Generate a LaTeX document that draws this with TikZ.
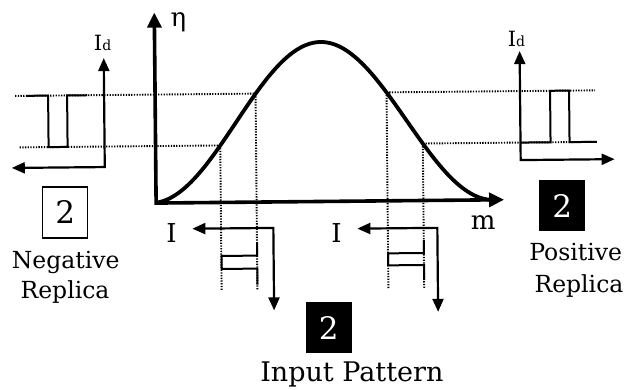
\documentclass[tikz,border=0pt]{standalone}
\usepackage{fontspec}
\setmainfont{DejaVu Serif}
\usetikzlibrary{arrows.meta}
\begin{document}
\begin{tikzpicture}[x=1pt,y=-1pt,
  axis/.style={line width=2.2pt,line join=miter,{Triangle[length=13pt,width=11pt]}-{Triangle[length=13pt,width=11pt]}},
  mainaxis/.style={line width=3.6pt,line join=miter,{Triangle[length=15pt,width=14pt]}-{Triangle[length=15pt,width=14pt]}},
  curve/.style={line width=3.8pt},
  guide/.style={line width=1.9pt,dash pattern=on 1.3pt off 1.4pt},
  pulse/.style={line width=2pt,line join=miter},
  lbl/.style={font=\fontsize{26}{28}\selectfont,inner sep=0pt},
  idlbl/.style={font=\fontsize{21}{24}\selectfont,inner sep=0pt},
  wbox/.style={draw,line width=1.3pt,minimum width=45pt,minimum height=51pt,inner sep=0pt,font=\fontsize{31}{32}\selectfont},
  bbox/.style={fill=black,text=white,minimum width=46pt,minimum height=51pt,inner sep=0pt,font=\fontsize{31}{32}\selectfont},
  captxt/.style={anchor=base,font=\fontsize{23.5}{25}\selectfont,inner sep=0pt},
  bigcap/.style={anchor=base,font=\fontsize{27}{28}\selectfont,inner sep=0pt}]
\useasboundingbox (0,0) rectangle (636,389);
\begin{scope}[rotate around={0.55:(320,190)}]
% main axes
\coordinate (O) at (156,201.5);
\coordinate (Ytip) at (156,11);
\coordinate (Xtip) at (504,201.5);
\draw[mainaxis] (Ytip) -- (O) -- (Xtip);
\node[lbl] (eta) at (180,21) {η};
\node[lbl] (m) at (483,224) {m};
% curve (raised cosine)
\draw[curve] plot[domain=158:490,samples=120,smooth] (\x,{201.5-79.75*(1+cos(1.0526*(\x-322)))});
% intersection points
\coordinate (LU) at (256.5,93);
\coordinate (LL) at (220.7,144.5);
\coordinate (RU) at (387.5,93);
\coordinate (RL) at (423.3,144.5);
% horizontal guides
\coordinate (gLU) at (16,93);
\coordinate (gLL) at (20,144.5);
\coordinate (gRU) at (596,93);
\coordinate (gRL) at (598,144.5);
\draw[guide] (gLU) -- (LU);
\draw[guide] (gLL) -- (LL);
\draw[guide] (RU) -- (gRU);
\draw[guide] (RL) -- (gRL);
% vertical guides
\coordinate (vLL) at (220.7,290);
\coordinate (vLU) at (256.5,290);
\coordinate (vRU) at (387.5,289);
\coordinate (vRL) at (423.3,289);
\draw[guide] (LL) -- (vLL);
\draw[guide] (LU) -- (vLU);
\draw[guide] (RU) -- (vRU);
\draw[guide] (RL) -- (vRL);
% left Id plot
\coordinate (lc) at (105,165);
\coordinate (lyt) at (105,56);
\coordinate (lxt) at (12,165);
\draw[axis] (lxt) -- (lc) -- (lyt);
\node[idlbl] (lId) at (104,41) {I{\fontsize{14}{14}\selectfont d}};
\draw[pulse] (28,93) -- (49,93) -- (49,144.5) -- (68,144.5) -- (68,93) -- (88,93);
% right Id plot
\coordinate (rc) at (521,162);
\coordinate (ryt) at (521,53);
\coordinate (rxt) at (615,162);
\draw[axis] (ryt) -- (rc) -- (rxt);
\node[idlbl] (rId) at (518,41) {I{\fontsize{14}{14}\selectfont d}};
\draw[pulse] (521,144.5) -- (551,144.5) -- (551,93) -- (570,93) -- (570,144.5) -- (597,144.5);
% left input pulse
\coordinate (lit) at (192,227.5);
\coordinate (lid) at (273,310);
\draw[axis] (lit) -| (lid);
\node[lbl] (lI) at (171,232) {I};
\draw[pulse] (256.5,242) -- (256.5,255) -- (221,255) -- (221,268) -- (256.5,268) -- (256.5,284);
% right input pulse
\coordinate (rit) at (357,229);
\coordinate (rid) at (437,313);
\draw[axis] (rit) -| (rid);
\node[lbl] (rI) at (336,233) {I};
\draw[pulse] (423.3,241) -- (423.3,254) -- (387.5,254) -- (387.5,266) -- (423.3,266) -- (423.3,281);
% boxes and captions
\node[wbox] (nb) at (65,210) {2};
\node[captxt] (nc1) at (65,266) {Negative};
\node[captxt] (nc2) at (64,296) {Replica};
\node[bbox] (pb) at (562,208) {2};
\node[captxt] (pc1) at (575,263) {Positive};
\node[captxt] (pc2) at (578,295) {Replica};
\node[bbox] (ib) at (327.5,328) {2};
\node[bigcap] (ic) at (350,382) {Input Pattern};
\end{scope}
\end{tikzpicture}
\end{document}
